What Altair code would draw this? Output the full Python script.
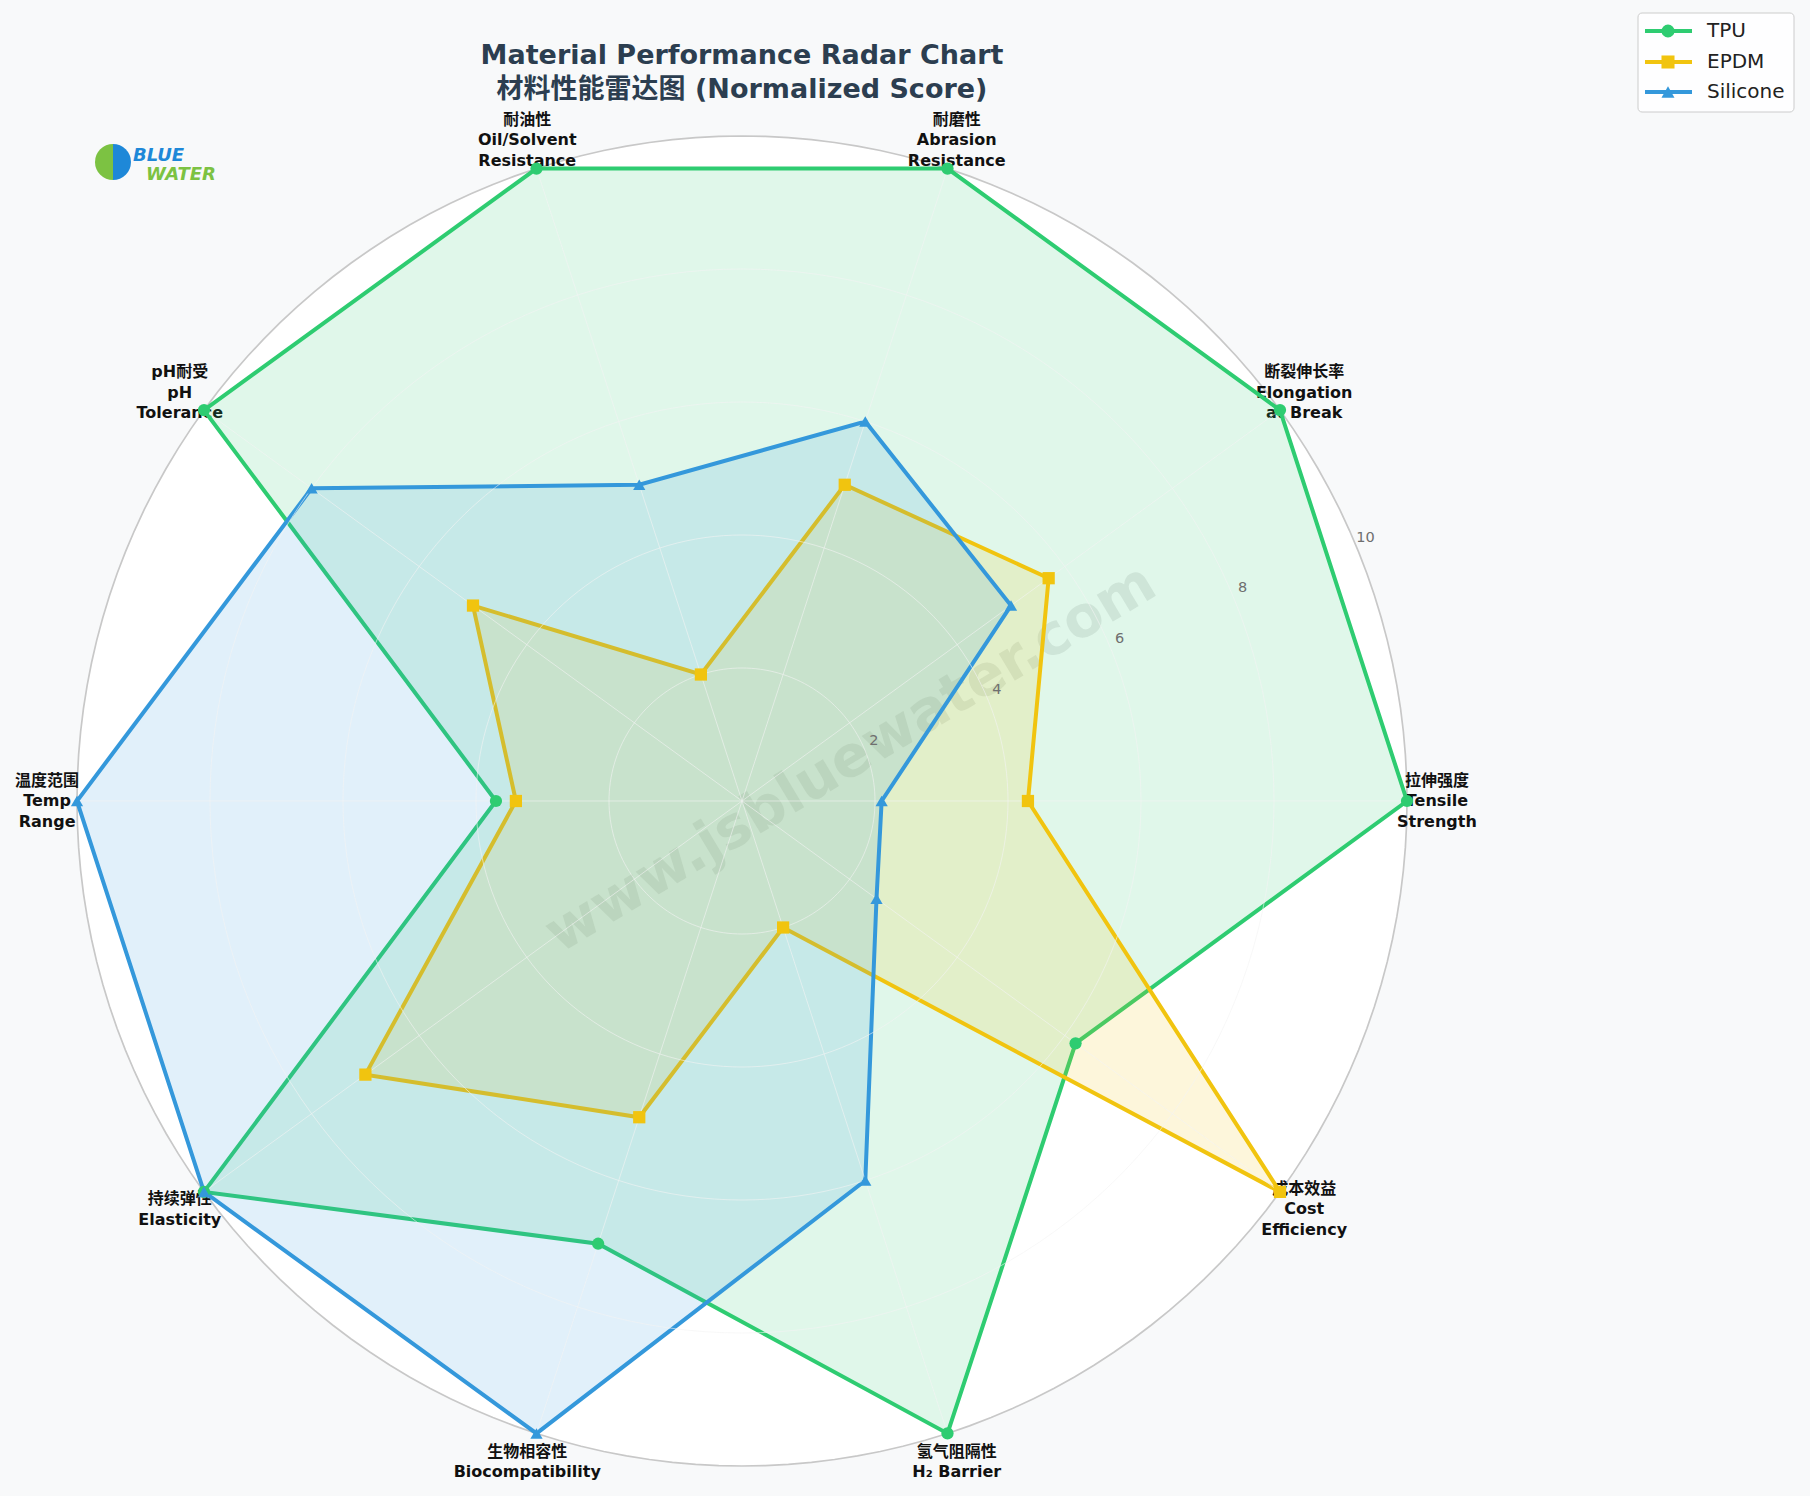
import altair as alt
import pandas as pd

# ---------------- data ----------------
axis_labels = [
    "拉伸强度\nTensile\nStrength",
    "断裂伸长率\nElongation\nat Break",
    "耐磨性\nAbrasion\nResistance",
    "耐油性\nOil/Solvent\nResistance",
    "pH耐受\npH\nTolerance",
    "温度范围\nTemp\nRange",
    "持续弹性\nElasticity",
    "生物相容性\nBiocompatibility",
    "氢气阻隔性\nH₂ Barrier",
    "成本效益\nCost\nEfficiency",
]
series_names = ["TPU", "EPDM", "Silicone"]
tpu_values = [10, 10, 10, 10, 10, 3.7, 10, 7.0, 10, 6.2]
epdm_values = [4.3, 5.7, 5.0, 2.0, 5.0, 3.4, 7.0, 5.0, 2.0, 10]
silicone_values = [2.1, 5.0, 6.0, 5.0, 8.0, 10, 10, 10, 6.0, 2.5]
radial_ticks = [2, 4, 6, 8, 10]

N = len(axis_labels)
FONT = "DejaVu Sans, Noto Sans CJK SC, sans-serif"

# ---------------- geometry of canvas ----------------
W, H = 1810, 1496
CX, CY, K = 742, 801, 66.5  # centre in px, px per unit
LH = 20.5                   # label line height
xs = alt.Scale(domain=[-CX / K, (W - CX) / K], nice=False, zero=False)
ys = alt.Scale(domain=[-(H - CY) / K, CY / K], nice=False, zero=False)


def X(f):
    return alt.X(f, type="quantitative", scale=xs, axis=None)


def Y(f):
    return alt.Y(f, type="quantitative", scale=ys, axis=None)


layers = []

# grid circles
deg = list(range(0, 360, 2))
grid_df = pd.DataFrame(
    [{"level": lv, "deg": d} for lv in radial_ticks for d in deg]
)
grid_base = alt.Chart(grid_df).transform_calculate(
    gx="datum.level*cos(datum.deg*PI/180)",
    gy="datum.level*sin(datum.deg*PI/180)",
)
outer = grid_base.transform_filter("datum.level == 10").mark_line(
    interpolate="linear-closed", fill="white", stroke="#c8c8c8", strokeWidth=1.7
).encode(x=X("gx"), y=Y("gy"), order="deg:Q")
layers.append(outer)

# axis labels
lab_df = pd.DataFrame({"idx": list(range(N)), "label": axis_labels})
labels = alt.Chart(lab_df).transform_calculate(
    ang=f"datum.idx*2*PI/{N}",
    nl="length(split(datum.label, '\\n'))",
    lx="10.45*cos(datum.ang)",
    ly=f"10.45*sin(datum.ang) + (datum.nl-1)*{LH / 2 / K}",
).mark_text(
    font=FONT, fontSize=16, fontWeight="bold", color="#111111",
    lineBreak="\n", lineHeight=LH, align="center", baseline="middle",
).encode(x=X("lx"), y=Y("ly"), text="label:N")
layers.append(labels)

# watermark
wm = alt.Chart(pd.DataFrame({"t": ["www.jsbluewater.com"]})).mark_text(
    font=FONT, fontSize=57, fontWeight="bold", color="#808080", opacity=0.16,
    angle=329, align="center", baseline="middle",
).encode(x=alt.value(851), y=alt.value(759), text="t:N")
layers.append(wm)

# series
colors = {"TPU": "#2ecc71", "EPDM": "#f1c40f", "Silicone": "#3498db"}
shapes = {"TPU": "circle", "EPDM": "square", "Silicone": "triangle-up"}
values = {"TPU": tpu_values, "EPDM": epdm_values, "Silicone": silicone_values}

series_layers = []
for name in series_names:
    df = pd.DataFrame({"idx": list(range(N)), "value": values[name], "series": name})
    base = alt.Chart(df).transform_calculate(
        ang=f"datum.idx*2*PI/{N}",
        x="datum.value*cos(datum.ang)",
        y="datum.value*sin(datum.ang)",
    )
    c = colors[name]
    area = base.mark_line(
        interpolate="linear-closed", fill=c, fillOpacity=0.15, stroke=c,
        strokeWidth=4, strokeJoin="miter",
    ).encode(x=X("x"), y=Y("y"), order="idx:Q")
    pts = base.mark_point(
        filled=True, shape=shapes[name], size=150, color=c, opacity=1
    ).encode(x=X("x"), y=Y("y"))
    series_layers.append((area, pts))

# fills first
for area, pts in series_layers:
    layers.append(area)

# faint inner grid and spokes (on top of fills, very light)
spoke_df = pd.DataFrame({"idx": list(range(N))})
spokes = alt.Chart(spoke_df).transform_calculate(
    ang=f"datum.idx*2*PI/{N}",
    x0="0", y0="0",
    x1="10*cos(datum.ang)", y1="10*sin(datum.ang)",
).mark_rule(color="#f3f3f3", strokeWidth=1, opacity=0.6).encode(
    x=X("x0"), y=Y("y0"), x2=alt.X2("x1"), y2=alt.Y2("y1")
)
layers.append(spokes)
inner = grid_base.transform_filter("datum.level < 10").mark_line(
    interpolate="linear-closed", stroke="#f3f3f3", strokeWidth=1, opacity=0.6
).encode(x=X("gx"), y=Y("gy"), detail="level:N", order="deg:Q")
layers.append(inner)

for area, pts in series_layers:
    layers.append(pts)

# radial tick labels
tick_df = pd.DataFrame({"r": radial_ticks, "t": [str(v) for v in radial_ticks]})
ticks = alt.Chart(tick_df).transform_calculate(
    tx="datum.r*cos(22.5*PI/180)", ty="datum.r*sin(22.5*PI/180)"
).mark_text(
    font=FONT, fontSize=14.5, color="#6f6f6f", align="center", baseline="middle",
    dx=9, dy=-9,
).encode(x=X("tx"), y=Y("ty"), text="t:N")
layers.append(ticks)

# title
one = pd.DataFrame({"t": ["Material Performance Radar Chart"]})
layers.append(alt.Chart(one).mark_text(
    font=FONT, fontSize=27, fontWeight="bold", color="#2c3e50", align="center",
    baseline="alphabetic",
).encode(x=alt.value(742), y=alt.value(63.5), text="t:N"))
two = pd.DataFrame({"t": ["材料性能雷达图 (Normalized Score)"]})
layers.append(alt.Chart(two).mark_text(
    font=FONT, fontSize=27, fontWeight="bold", color="#2c3e50", align="center",
    baseline="alphabetic",
).encode(x=alt.value(742), y=alt.value(97.5), text="t:N"))

# legend
dummy = pd.DataFrame({"a": [0]})
layers.append(alt.Chart(dummy).mark_rect(
    fill="white", fillOpacity=0.85, stroke="#cccccc", strokeWidth=1, cornerRadius=4
).encode(x=alt.value(1638), x2=alt.value(1794), y=alt.value(13), y2=alt.value(112)))
for i, name in enumerate(series_names):
    yy = [31, 62, 92][i]
    c = colors[name]
    layers.append(alt.Chart(dummy).mark_rule(color=c, strokeWidth=4).encode(
        x=alt.value(1645), x2=alt.value(1692), y=alt.value(yy)))
    layers.append(alt.Chart(dummy).mark_point(
        filled=True, shape=shapes[name], size=170, color=c, opacity=1
    ).encode(x=alt.value(1668), y=alt.value(yy)))
    layers.append(alt.Chart(pd.DataFrame({"t": [name]})).mark_text(
        font=FONT, fontSize=20, color="#222222", align="left", baseline="middle"
    ).encode(x=alt.value(1707), y=alt.value(yy), text="t:N"))

# logo
layers.append(alt.Chart(dummy).mark_arc(
    theta=3.1416, theta2=6.2832, outerRadius=18, color="#7cc242"
).encode(x=alt.value(113), y=alt.value(162)))
layers.append(alt.Chart(dummy).mark_arc(
    theta=0, theta2=3.1416, outerRadius=18, color="#1e88d8"
).encode(x=alt.value(113), y=alt.value(162)))
layers.append(alt.Chart(pd.DataFrame({"t": ["BLUE"]})).mark_text(
    font=FONT, fontSize=18, fontWeight="bold", fontStyle="italic", color="#1e88d8",
    align="left", baseline="middle",
).encode(x=alt.value(133), y=alt.value(156), text="t:N"))
layers.append(alt.Chart(pd.DataFrame({"t": ["WATER"]})).mark_text(
    font=FONT, fontSize=18, fontWeight="bold", fontStyle="italic", color="#7cc242",
    align="left", baseline="middle",
).encode(x=alt.value(146), y=alt.value(175), text="t:N"))

chart = alt.layer(*layers).properties(
    width=W, height=H, autosize=alt.AutoSizeParams(type="none"), padding=0,
    background="#f8f9fa",
).configure_view(strokeWidth=0)

chart.save("out.html", embed_options={"renderer": "svg", "actions": False})
